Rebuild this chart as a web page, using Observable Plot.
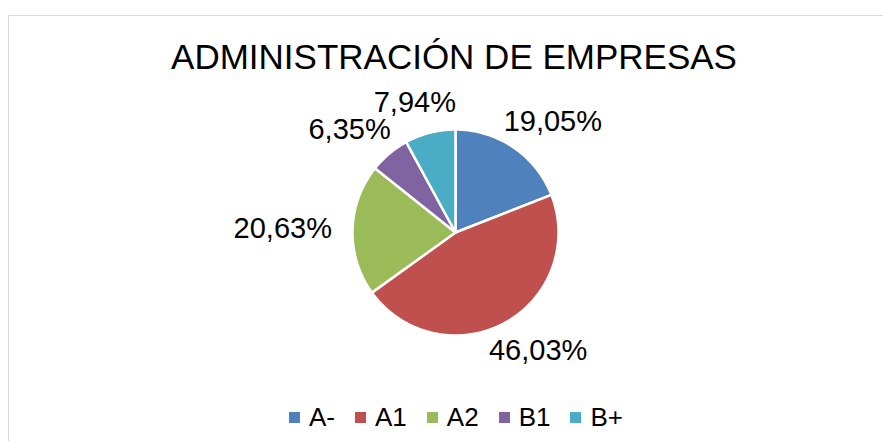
<!DOCTYPE html>
<html>
<head>
<meta charset="utf-8">
<script src="https://cdn.jsdelivr.net/npm/d3@7"></script>
<script src="https://cdn.jsdelivr.net/npm/@observablehq/plot@0.6"></script>
<style>
  html, body { margin: 0; padding: 0; background: #fff; }
  body { width: 883px; height: 441px; overflow: hidden; font-family: "Liberation Sans", Arial, sans-serif; }
  #wrap { position: relative; width: 883px; height: 441px; }
  #frame { position: absolute; left: 8px; top: 15px; width: 890px; height: 440px; border-left: 1.5px solid #d9d9d9; border-top: 1.5px solid #d9d9d9; box-sizing: border-box; }
  #title { position: absolute; left: 0; width: 908px; top: 39px; text-align: center; font-size: 35px; line-height: 35px; color: #000; white-space: nowrap; }
  #chart { position: absolute; left: 0; top: 0; }
  #legend { position: absolute; left: 0; width: 912px; top: 403px; display: flex; justify-content: center; align-items: center; font-size: 26px; line-height: 28px; color: #000; }
  .item { display: flex; align-items: center; margin: 0 10px; }
  .sw { width: 11px; height: 11px; margin-right: 9px; }
</style>
</head>
<body>
<div id="wrap">
  <div id="frame"></div>
  <div id="chart"></div>
  <div id="title"></div>
  <div id="legend"></div>
</div>
<script>
const title = "ADMINISTRACIÓN DE EMPRESAS";
const categories = ["A-", "A1", "A2", "B1", "B+"];
const values = [19.05, 46.03, 20.63, 6.35, 7.94];
const colors = ["#4F81BD", "#C0504D", "#9BBB59", "#8064A2", "#4BACC6"];

const W = 883, H = 441, CX = 455, CY = 232, R = 103;
const labelFont = 29;

const total = d3.sum(values);
const fmt = v => v.toFixed(2).replace(".", ",") + "%";

// slice polygons (unit radius, y up, angle clockwise from 12 o'clock)
const slices = [];
let acc = 0;
values.forEach((v, i) => {
  const a0 = acc / total * 2 * Math.PI;
  acc += v;
  const a1 = acc / total * 2 * Math.PI;
  const n = Math.max(2, Math.ceil((a1 - a0) / (Math.PI / 180)));
  slices.push({cat: categories[i], x: 0, y: 0});
  for (let k = 0; k <= n; k++) {
    const a = a0 + (a1 - a0) * k / n;
    slices.push({cat: categories[i], x: Math.sin(a), y: Math.cos(a)});
  }
});

// labels: box placed outside the pie along the mid-angle
const ctx = document.createElement("canvas").getContext("2d");
ctx.font = `${labelFont}px "Liberation Sans", Arial, sans-serif`;
const labels = [];
acc = 0;
values.forEach((v, i) => {
  const mid = (acc + v / 2) / total * 2 * Math.PI;
  acc += v;
  const text = fmt(v);
  const hw = ctx.measureText(text).width / 2 / R;
  const hh = (labelFont * 0.36) / R;
  const r = 1.2;
  labels.push({
    text,
    x: r * Math.sin(mid) + Math.sin(mid) * hw,
    y: r * Math.cos(mid) + Math.cos(mid) * hh
  });
});

const plot = Plot.plot({
  width: W,
  height: H,
  margin: 0,
  x: {domain: [-CX / R, (W - CX) / R], axis: null},
  y: {domain: [-(H - CY) / R, CY / R], axis: null},
  color: {domain: categories, range: colors},
  style: {background: "transparent", fontFamily: '"Liberation Sans", Arial, sans-serif'},
  marks: [
    Plot.line(slices, {x: "x", y: "y", z: "cat", fill: "cat", stroke: "#fff", strokeWidth: 2.5, curve: "linear-closed", strokeLinejoin: "round"}),
    Plot.text(labels, {x: "x", y: "y", text: "text", fontSize: labelFont, fill: "#000", textAnchor: "middle", lineAnchor: "middle"})
  ]
});
document.getElementById("chart").appendChild(plot);

document.getElementById("title").textContent = title;
const leg = document.getElementById("legend");
categories.forEach((c, i) => {
  const it = document.createElement("div");
  it.className = "item";
  const sw = document.createElement("div");
  sw.className = "sw";
  sw.style.background = colors[i];
  const tx = document.createElement("span");
  tx.textContent = c;
  it.appendChild(sw);
  it.appendChild(tx);
  leg.appendChild(it);
});
</script>
</body>
</html>
